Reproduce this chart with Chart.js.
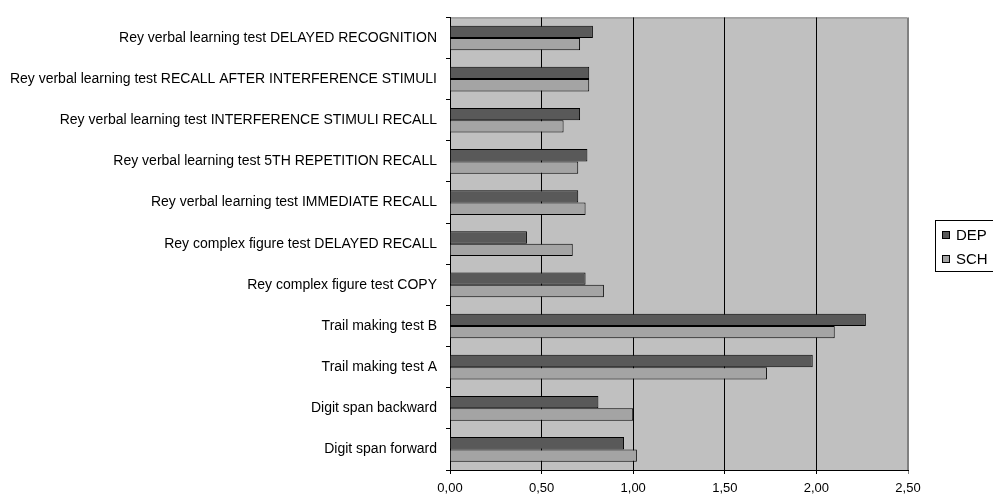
<!DOCTYPE html>
<html lang="en">
<head>
    <meta charset="UTF-8">
    <title>Neuropsychological tests DEP vs SCH</title>
    <script src="https://cdn.jsdelivr.net/npm/chart.js@4.4.1/dist/chart.umd.min.js"></script>
    <style>
        html, body { margin: 0; padding: 0; background: #fff; }
        #wrap { position: relative; width: 993px; height: 496px; }
    </style>
</head>
<body>
    <div id="wrap"><canvas id="tests"></canvas></div>
    <script>
        let categories = [
            'Rey verbal learning test DELAYED RECOGNITION',
            'Rey verbal learning test RECALL AFTER INTERFERENCE STIMULI',
            'Rey verbal learning test INTERFERENCE STIMULI RECALL',
            'Rey verbal learning test 5TH REPETITION RECALL',
            'Rey verbal learning test IMMEDIATE RECALL',
            'Rey complex figure test DELAYED RECALL',
            'Rey complex figure test COPY',
            'Trail making test B',
            'Trail making test A',
            'Digit span backward',
            'Digit span forward'
        ];
        let depValues = [0.78, 0.76, 0.71, 0.75, 0.70, 0.42, 0.74, 2.27, 1.98, 0.81, 0.95];
        let schValues = [0.71, 0.76, 0.62, 0.70, 0.74, 0.67, 0.84, 2.10, 1.73, 1.00, 1.02];
        let xTicks = [0, 0.5, 1, 1.5, 2, 2.5];

        const FONT = "'Liberation Sans', Arial, sans-serif";

        // grey plot background + grey top/right frame
        const plotBg = {
            id: 'plotBg',
            beforeDraw(chart) {
                const a = chart.chartArea, c = chart.ctx;
                c.save();
                c.fillStyle = '#c0c0c0';
                c.fillRect(a.left, a.top, a.right - a.left, a.bottom - a.top);
                c.strokeStyle = '#808080';
                c.lineWidth = 1;
                c.beginPath();
                c.moveTo(a.left, a.top + 0.5);
                c.lineTo(a.right - 0.5, a.top + 0.5);
                c.lineTo(a.right - 0.5, a.bottom);
                c.stroke();
                c.restore();
            }
        };

        // boxed legend at the right like the original
        const boxLegend = {
            id: 'boxLegend',
            afterDraw(chart) {
                const c = chart.ctx;
                const x = 935, y = 220, h = 51;
                c.save();
                c.fillStyle = '#fff';
                c.fillRect(x, y, 70, h);
                c.strokeStyle = '#000';
                c.lineWidth = 1;
                c.strokeRect(x + 0.5, y + 0.5, 70, h);
                c.font = '15px ' + FONT;
                c.textBaseline = 'middle';
                chart.data.datasets.forEach((ds, i) => {
                    const cy = 235 + i * 24;
                    c.fillStyle = ds.backgroundColor;
                    c.fillRect(942, cy - 4, 8, 8);
                    c.strokeRect(942.5, cy - 3.5, 7, 7);
                    c.fillStyle = '#000';
                    c.fillText(ds.label, 956, cy + 1);
                });
                c.restore();
            }
        };

        const ctx = document.getElementById('tests').getContext('2d');
        const chart = new Chart(ctx, {
            type: 'bar',
            data: {
                labels: categories,
                datasets: [{
                    label: 'DEP',
                    data: depValues,
                    backgroundColor: '#595959',
                    borderColor: '#000',
                    borderWidth: 1
                }, {
                    label: 'SCH',
                    data: schValues,
                    backgroundColor: '#a4a4a4',
                    borderColor: '#000',
                    borderWidth: 1
                }]
            },
            options: {
                indexAxis: 'y',
                responsive: true,
                maintainAspectRatio: false,
                animation: false,
                datasets: {
                    bar: { categoryPercentage: 0.6, barPercentage: 1.0 }
                },
                layout: { padding: { top: 13, right: 85, left: 0, bottom: 0 } },
                plugins: {
                    legend: { display: false },
                    tooltip: { enabled: false }
                },
                scales: {
                    x: {
                        min: 0,
                        max: 2.5,
                        afterBuildTicks(scale) {
                            scale.ticks = xTicks.map(v => ({ value: v }));
                        },
                        afterFit(scale) { scale.height = 26; },
                        ticks: {
                            color: '#000',
                            font: { family: FONT, size: 13 },
                            padding: 7,
                            maxRotation: 0,
                            callback: v => Number(v).toFixed(2).replace('.', ',')
                        },
                        grid: {
                            z: -1,
                            color: c => c.tick && c.tick.value === 2.5 ? '#808080' : '#000',
                            lineWidth: 1,
                            tickLength: 4
                        },
                        border: { display: true, color: '#000' }
                    },
                    y: {
                        afterFit(scale) { scale.width = 450; },
                        ticks: {
                            color: '#000',
                            font: { family: FONT, size: 14 },
                            padding: 9,
                            autoSkip: false
                        },
                        grid: {
                            offset: true,
                            drawOnChartArea: false,
                            color: '#000',
                            tickLength: 4
                        },
                        border: { display: true, color: '#000' }
                    }
                }
            },
            plugins: [plotBg, boxLegend]
        });
    </script>
</body>
</html>
